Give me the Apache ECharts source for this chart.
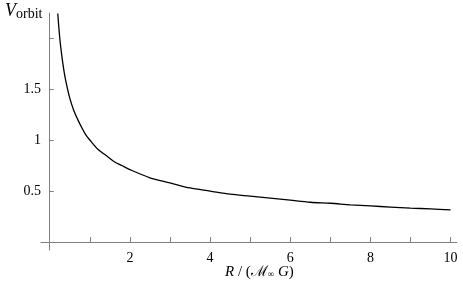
<!DOCTYPE html>
<html><head><meta charset="utf-8">
<script src="https://cdn.jsdelivr.net/npm/echarts@6/dist/echarts.min.js"></script>
<style>html,body{margin:0;padding:0;background:#fff}#c{width:463px;height:291px}</style>
</head><body><div id="c"></div>
<script>
const radius = [0.2,0.25,0.3,0.35,0.4,0.5,0.6,0.7,0.8,0.9,1,1.2,1.4,1.6,1.8,2,2.5,3,3.5,4,4.5,5,5.5,6,6.5,7,7.5,8,8.5,9,9.5,10];
const vOrbit = [2.24,2.0,1.83,1.69,1.58,1.41,1.29,1.2,1.12,1.05,1.0,0.91,0.85,0.79,0.75,0.71,0.63,0.58,0.53,0.5,0.47,0.45,0.43,0.41,0.39,0.38,0.365,0.354,0.343,0.333,0.325,0.316];
const xTickLabels = [2,4,6,8,10];
const xTicks = [1,2,3,4,5,6,7,8,9,10];
const yTickLabels = [0.5,1,1.5];
const yTicks = [0.5,1,1.5,2];

const axisGray = '#808080';
const serif = '"Liberation Serif","DejaVu Serif",serif';
const chart = echarts.init(document.getElementById('c'), null, {renderer:'canvas'});
chart.setOption({
  animation:false,
  grid:{left:41,right:6,top:13,bottom:41,containLabel:false},
  xAxis:{type:'value',min:-0.218,max:10.16,
    axisLine:{onZero:true,lineStyle:{color:axisGray,width:1}},
    axisTick:{inside:true,length:5,customValues:xTicks,lineStyle:{color:axisGray}},
    axisLabel:{customValues:xTickLabels,margin:1,color:'#000',fontFamily:serif,fontSize:14},
    splitLine:{show:false}},
  yAxis:{type:'value',min:-0.078,max:2.245,
    axisLine:{onZero:true,lineStyle:{color:axisGray,width:1}},
    axisTick:{inside:true,length:4,customValues:yTicks,lineStyle:{color:axisGray}},
    axisLabel:{customValues:yTickLabels,margin:0,color:'#000',fontFamily:serif,fontSize:14},
    splitLine:{show:false}},
  graphic:[
    {type:'text',left:5,top:2,style:{
      text:'{v|V}{s|orbit}',
      rich:{v:{fontFamily:serif,fontStyle:'italic',fontSize:18,fill:'#000'},
            s:{fontFamily:serif,fontSize:14,fill:'#000',padding:[6,0,0,0]}}}},
    {type:'text',left:225,top:265,style:{
      text:'{i|R} / ({m|ℳ}{sub|∞} {i|G})',
      rich:{i:{fontFamily:serif,fontStyle:'italic',fontSize:15,fill:'#000'},
            m:{fontFamily:serif,fontSize:15,fill:'#000'},
            sub:{fontFamily:serif,fontSize:9,fill:'#000',padding:[5,0,0,0]}},
      fontFamily:serif,fontSize:15,fill:'#000'}}
  ],
  series:[{type:'line',data:radius.map((r,i)=>[r,vOrbit[i]]),smooth:0.3,showSymbol:false,
    lineStyle:{color:'#000',width:1.3}}]
});
</script></body></html>
